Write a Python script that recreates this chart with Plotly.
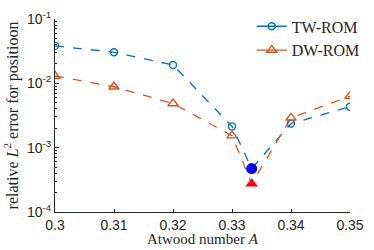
import plotly.graph_objects as go

atwood = [0.30, 0.31, 0.32, 0.33, 1/3, 0.34, 0.35]
tw_rom = [0.0382, 0.0304, 0.0193, 0.00214, 4.74e-4, 0.00237, 0.00433]
dw_rom = [0.0130, 0.00885, 0.00485, 0.00154, 2.75e-4, 0.00291, 0.00631]
tw_special = [4.74e-4]
dw_special = [2.75e-4]
special_x = [1/3]

x_ticks = [0.30, 0.31, 0.32, 0.33, 0.34, 0.35]
x_ticklabels = ["0.3", "0.31", "0.32", "0.33", "0.34", "0.35"]
y_ticks = [1e-4, 1e-3, 1e-2, 1e-1]
y_ticklabels = ["10<sup>-4</sup>", "10<sup>-3</sup>", "10<sup>-2</sup>", "10<sup>-1</sup>"]

blue = "#0072BD"
orange = "#D95319"

reg_x = [a for i, a in enumerate(atwood) if i != 4]
tw_reg = [v for i, v in enumerate(tw_rom) if i != 4]
dw_reg = [v for i, v in enumerate(dw_rom) if i != 4]

fig = go.Figure()
fig.add_trace(go.Scatter(x=atwood, y=tw_rom, mode="lines", line=dict(color=blue, dash="dash", width=1.3),
                         showlegend=False, hoverinfo="skip"))
fig.add_trace(go.Scatter(x=atwood, y=dw_rom, mode="lines", line=dict(color=orange, dash="dash", width=1.3),
                         showlegend=False, hoverinfo="skip"))
fig.add_trace(go.Scatter(x=reg_x, y=tw_reg, mode="markers", name="TW-ROM",
                         marker=dict(symbol="circle-open", size=7, color=blue, line=dict(width=1.4)),
                         showlegend=False))
fig.add_trace(go.Scatter(x=reg_x, y=dw_reg, mode="markers", name="DW-ROM",
                         marker=dict(symbol="triangle-up-open", size=9, color=orange, line=dict(width=1.4)),
                         showlegend=False))
fig.add_trace(go.Scatter(x=[None], y=[None], mode="lines+markers", name="TW-ROM",
                         line=dict(color=blue, dash="solid", width=1.3),
                         marker=dict(symbol="circle-open", size=7, color=blue, line=dict(width=1.4))))
fig.add_trace(go.Scatter(x=[None], y=[None], mode="lines+markers", name="DW-ROM",
                         line=dict(color=orange, dash="solid", width=1.3),
                         marker=dict(symbol="triangle-up-open", size=9, color=orange, line=dict(width=1.4))))
fig.add_trace(go.Scatter(x=special_x, y=tw_special, mode="markers", showlegend=False,
                         marker=dict(symbol="circle", size=11, color="#0000FF")))
fig.add_trace(go.Scatter(x=special_x, y=dw_special, mode="markers", showlegend=False,
                         marker=dict(symbol="triangle-up", size=11, color="#FF0000")))

axis_font = dict(family="Liberation Sans", size=14, color="#262626")
title_font = dict(family="Liberation Serif", size=15, color="#262626")
ytitle_font = dict(family="Liberation Serif", size=16, color="#262626")

fig.update_layout(
    width=374, height=250,
    margin=dict(l=55, r=15, t=9, b=38),
    plot_bgcolor="white", paper_bgcolor="white",
    xaxis=dict(range=[0.30, 0.35], tickvals=x_ticks, ticktext=x_ticklabels,
               ticks="inside", ticklen=3, tickcolor="#262626", ticklabeloverflow="allow",
               automargin=False,
               showline=True, linecolor="#262626", linewidth=1,
               showgrid=False, zeroline=False, tickfont=axis_font),
    yaxis=dict(type="log", range=[-4, -1], tickvals=y_ticks, ticktext=y_ticklabels,
               ticks="inside", ticklen=4, tickcolor="#262626", ticklabeloverflow="allow",
               automargin=False,
               minor=dict(ticks="inside", ticklen=2, tickcolor="#262626", dtick="D1", showgrid=False),
               showline=True, linecolor="#262626", linewidth=1,
               showgrid=False, zeroline=False, tickfont=axis_font,
               title=dict(text="relative <i>L</i><sup>2</sup> error for positioon", font=ytitle_font, standoff=4)),
    legend=dict(x=1.05, y=1.05, xanchor="right", yanchor="top", bgcolor="rgba(255,255,255,0)",
                font=dict(family="Liberation Serif", size=16, color="#262626"),
                itemwidth=30, tracegroupgap=0),
    annotations=[dict(text="Atwood number <i>A</i>", xref="paper", yref="paper", x=0.5, y=-0.187,
                      xanchor="center", yanchor="bottom", showarrow=False, font=title_font,
                      borderpad=0)],
)

fig.write_html("out.html", config={"displayModeBar": False},
               post_script="document.body.style.margin='0';document.body.style.overflow='hidden';")
